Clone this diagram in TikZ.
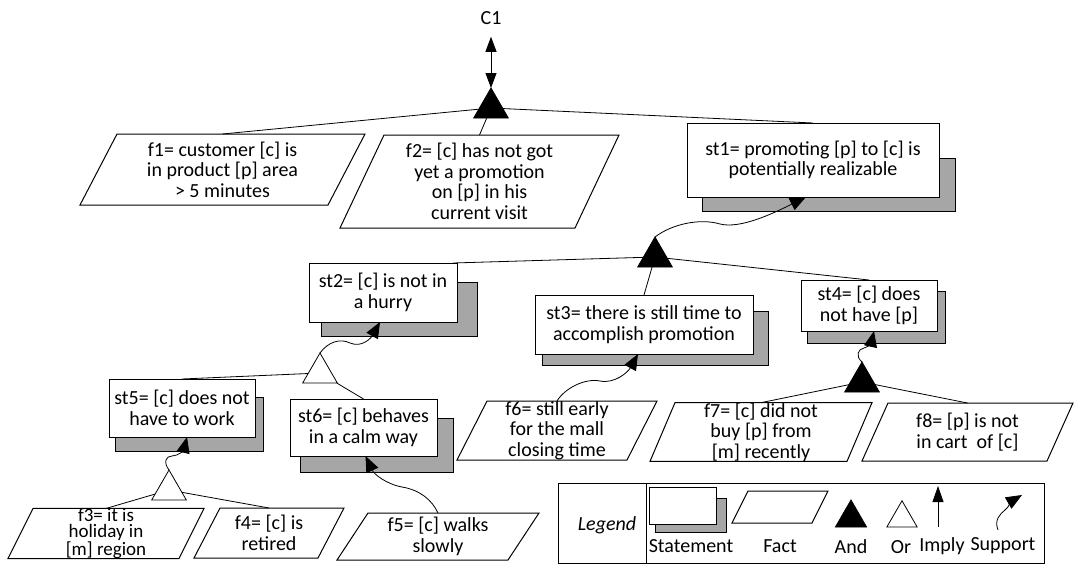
\documentclass[tikz,border=0pt]{standalone}
\usepackage{fontspec}
\setmainfont{Carlito}
\usetikzlibrary{arrows.meta,shapes.geometric,backgrounds,calc}
\definecolor{shadowgray}{RGB}{166,166,166}

% statement box with a grey shadow box behind it
\newcommand\stshadow[5]{%
  \filldraw[fill=shadowgray, draw=black, line width=1pt]
    ([xshift=#2, yshift=-#3]#1.south west) rectangle ([xshift=#4, yshift=-#5]#1.north east);}
% parallelogram outline of a fact node (#2 = horizontal slant)
\newcommand\factframe[2]{%
  \draw[line width=1pt] ([xshift=#2]#1.north west) -- (#1.north east)
    -- ([xshift=-#2]#1.south east) -- (#1.south west) -- cycle;}

\tikzset{
  every node/.style={font=\fontsize{20}{20.5}\selectfont},
  stmt/.style={draw, fill=white, line width=1pt, align=center, inner sep=0pt, outer sep=0pt},
  fact/.style={align=center, inner sep=0pt, outer sep=0pt},
  gate/.style={regular polygon, regular polygon sides=3, draw, line width=0.8pt,
    minimum size=40pt, inner sep=0pt, outer sep=0pt},
  andgate/.style={gate, fill=black},
  orgate/.style={gate, fill=white},
  link/.style={line width=0.8pt},
  support/.style={line width=0.8pt, -{Triangle[length=16pt,width=13pt]}},
  imply/.style={line width=0.8pt, -{Triangle[length=16pt,width=11pt]}},
}

\begin{document}
\begin{tikzpicture}[x=1pt, y=-1pt]
\useasboundingbox (0,0) rectangle (1074,565);

% ---- top goal
\node[inner sep=2pt] (c1) at (491,18) {C1};
\node[andgate, anchor=corner 1] (a1) at (491,88) {};
\draw[line width=0.8pt, {Triangle[length=15pt,width=11pt]}-{Triangle[length=15pt,width=11pt]}]
  ([yshift=-10pt]c1.south) -- (a1.corner 1);

% ---- statements
\node[stmt, minimum width=252, minimum height=74] (st1) at (813,160)
  {st1= promoting [p] to [c] is\\potentially realizable};
\node[stmt, minimum width=148, minimum height=59] (st2) at (383,292.5)
  {st2= [c] is not in\\a hurry};
\node[stmt, minimum width=218, minimum height=59] (st3) at (644,324.5)
  {st3= there is still time to\\accomplish promotion};
\node[stmt, minimum width=136, minimum height=51] (st4) at (869,305.5)
  {st4= [c] does\\not have [p]};
\node[stmt, minimum width=146, minimum height=58] (st5) at (182,408)
  {st5= [c] does not\\have to work};
\node[stmt, minimum width=147, minimum height=57] (st6) at (363.5,427.5)
  {st6= [c] behaves\\in a calm way};

\begin{pgfonlayer}{background}
  \stshadow{st1}{15}{14}{16}{35}
  \stshadow{st2}{12}{14}{20}{19}
  \stshadow{st3}{7}{11}{15}{16}
  \stshadow{st4}{6}{12}{8}{11}
  \stshadow{st5}{6}{14}{8}{18}
  \stshadow{st6}{10}{16}{16}{19}
\end{pgfonlayer}

% ---- facts
\node[fact, minimum width=285, minimum height=71] (f1) at (222.5,169.5)
  {f1= customer [c] is\\in product [p] area\\> 5 minutes};
\node[fact, minimum width=279, minimum height=93] (f2) at (479.5,181.5)
  {f2= [c] has not got\\yet a promotion\\on [p] in his\\current visit};
\node[fact, minimum width=196, minimum height=50,
      font=\fontsize{19}{16}\selectfont] (f3) at (106,533.5)
  {f3= it is\\holiday in\\{}[m] region};
\node[fact, minimum width=150, minimum height=50] (f4) at (269,533)
  {f4= [c] is\\retired};
\node[fact, minimum width=202, minimum height=47] (f5) at (438,536.5)
  {f5= [c] walks\\slowly};
\node[fact, minimum width=200, minimum height=59] (f6) at (557,430.5)
  {f6= still early\\for the mall\\closing time};
\node[fact, minimum width=222, minimum height=58] (f7) at (761,432)
  {f7= [c] did not\\buy [p] from\\{}[m] recently};
\node[fact, minimum width=211, minimum height=58] (f8) at (967.5,432)
  {f8= [p] is not\\in cart\ \ of [c]};
\factframe{f1}{37}
\factframe{f2}{44}
\factframe{f3}{25}
\factframe{f4}{26}
\factframe{f5}{31}
\factframe{f6}{30}
\factframe{f7}{25}
\factframe{f8}{26}

% ---- gates
\node[andgate, anchor=corner 1] (a2) at (655,237) {};
\node[andgate, anchor=corner 1] (a3) at (862,362) {};
\node[orgate, anchor=corner 1] (o1) at (320,353) {};
\node[orgate, anchor=corner 1] (o2) at (169,470) {};

% ---- decomposition links
\draw[link] (a1) -- (f1.north);
\draw[link] (a1) -- (f2.north);
\draw[link] (a1) -- (st1.north);
\draw[link] (a2) -- ([xshift=-4pt]st2.north east);
\draw[link] (a2) -- (st3.north);
\draw[link] (a2) -- (st4.north);
\draw[link] (a3) -- (f7.north);
\draw[link] (a3) -- (f8.north);
\draw[link] (o1) -- (st5.north);
\draw[link] (o1) -- (st6.north);
\draw[link] (o2) -- (f3.north);
\draw[link] (o2) -- (f4.north);

% ---- support arrows
\draw[support] (a2.corner 1) .. controls (672,224) and (700,218) .. (720,224)
  .. controls (740,229) and (772,214) .. ([xshift=-7pt]st1.south);
\draw[support] (o1.corner 1) .. controls (328,342) and (340,338) .. (350,343)
  .. controls (362,348) and (371,338) .. ([xshift=-3pt]st2.south);
\draw[support] (o2.corner 1) .. controls (163,462) and (166,456) .. (172,456)
  .. controls (179,456) and (184,449) .. ([xshift=5pt]st5.south);
\draw[support] (a3.corner 1) .. controls (855,356) and (858,349) .. (864,348)
  .. controls (870,347) and (872,340) .. ([xshift=5pt]st4.south);
\draw[support] (f6.north) .. controls (565,388) and (585,378) .. (600,381)
  .. controls (615,384) and (628,372) .. ([xshift=-6pt]st3.south);
\draw[support] (f5.north) .. controls (432,500) and (420,490) .. (402,487)
  .. controls (386,484) and (374,474) .. ([xshift=2pt]st6.south);

% ---- legend
\node[draw, line width=1pt, minimum width=486, minimum height=80,
      inner sep=0pt, outer sep=0pt, anchor=north west] (legend) at (558,483) {};
\draw[line width=1pt] ([xshift=88pt]legend.north west) -- ([xshift=88pt]legend.south west);
\node[font=\fontsize{20}{20.5}\selectfont\itshape] (legtitle) at (607,525) {Legend};

\node[stmt, minimum width=67, minimum height=37] (lgst) at (682.5,505.5) {};
\begin{pgfonlayer}{background}
  \stshadow{lgst}{6}{8}{10}{11}
\end{pgfonlayer}
\node (lgstlab) at (691,546) {Statement};

\node[fact, minimum width=96, minimum height=32] (lgfact) at (780,507) {};
\factframe{lgfact}{16}
\node (lgfactlab) at (780,546) {Fact};

\node[andgate, minimum size=36pt, anchor=side 2] (lgand) at (851,527) {};
\node (lgandlab) at (851,547) {And};

\node[orgate, minimum size=35pt, anchor=side 2] (lgor) at (902,527) {};
\node (lgorlab) at (901,547) {Or};

\coordinate (imp0) at (938,527);
\coordinate (imp1) at (938,486);
\draw[imply] (imp0) -- (imp1);
\node (lgimplab) at (942,546) {Imply};

\coordinate (sup0) at (998,530);
\coordinate (sup1) at (1022,495);
\draw[support] (sup0) .. controls (994,520) and (1000,514) .. (1005,510)
  .. controls (1010,506) and (1010,502) .. (sup1);
\node (lgsuplab) at (1003,546) {Support};
\end{tikzpicture}
\end{document}
